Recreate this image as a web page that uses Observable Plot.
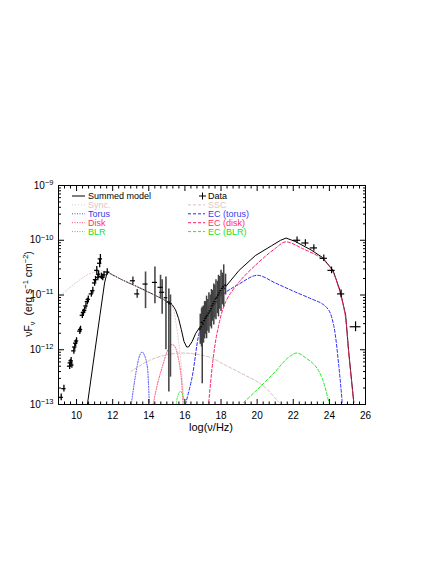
<!DOCTYPE html>
<html><head><meta charset="utf-8">
<script src="https://cdn.jsdelivr.net/npm/d3@7"></script>
<script src="https://cdn.jsdelivr.net/npm/@observablehq/plot@0.6"></script>
<style>
html,body{margin:0;padding:0;background:#fff;}
#chart{width:436px;height:564px;}
</style></head><body><div id="chart"></div>
<script>
// ---- tick labels ----
const xMajorTicks = [10, 12, 14, 16, 18, 20, 22, 24, 26];
const yMajorExponents = [-13, -12, -11, -10, -9];

// ---- model curves: [log(nu/Hz), log(nuFnu)] ----
const summedModel = [[10.6,-13.0],[11.0,-12.06],[11.3,-11.36],[11.55,-10.78],[11.7,-10.58],[12.5,-10.72],[13.5,-10.87],[14.5,-11.03],[15.1,-11.13],[15.3,-11.18],[15.48,-11.27],[15.65,-11.43],[15.8,-11.63],[15.95,-11.85],[16.1,-11.95],[16.2,-11.95],[16.4,-11.85],[16.6,-11.70],[16.9,-11.55],[17.3,-11.35],[17.7,-11.15],[18.25,-10.85],[19.0,-10.55],[19.9,-10.28],[20.8,-10.10],[21.3,-10.0],[21.6,-9.96],[22.1,-10.02],[23.0,-10.18],[23.6,-10.31],[24.2,-10.55],[24.6,-10.93],[24.9,-11.37],[25.07,-12.04],[25.35,-12.96]];
const syncModel = [[9.0,-11.05],[9.5,-10.9],[10.0,-10.77],[10.5,-10.65],[11.0,-10.58],[11.5,-10.56],[11.8,-10.6],[12.5,-10.72],[13.5,-10.87],[14.5,-11.03],[15.1,-11.13],[15.3,-11.2],[15.5,-11.5],[15.65,-11.85],[15.8,-12.3],[15.95,-12.96]];
const torusModel = [[13.03,-13],[13.2,-12.6],[13.36,-12.29],[13.5,-12.1],[13.63,-12.04],[13.76,-12.1],[13.91,-12.29],[13.98,-12.6],[14.03,-13]];
const diskModel = [[14.24,-13],[14.5,-12.6],[14.74,-12.32],[15.0,-12.05],[15.2,-11.92],[15.35,-11.91],[15.5,-11.98],[15.65,-12.18],[15.78,-12.45],[15.9,-13]];
const blrModel = [[15.52,-13],[15.6,-12.85],[15.75,-12.76],[15.9,-12.85],[16.0,-13]];
const sscModel = [[13.0,-12.40],[14.0,-12.2],[15.0,-12.09],[15.8,-12.06],[16.6,-12.08],[17.5,-12.15],[18.0,-12.24],[19.0,-12.41],[20.3,-12.65],[21.2,-12.96]];
const ecTorusModel = [[16.03,-13],[16.4,-12.5],[16.77,-11.72],[17.14,-11.31],[17.6,-11.12],[18.25,-10.95],[19.0,-10.80],[20.0,-10.64],[21.0,-10.78],[21.94,-10.92],[23.0,-11.07],[23.6,-11.16],[23.97,-11.28],[24.24,-11.56],[24.52,-12.29],[24.71,-12.96]];
const ecDiskModel = [[17.32,-12.96],[17.55,-12.2],[17.79,-11.68],[18.25,-11.13],[18.98,-10.77],[20.09,-10.40],[21.0,-10.15],[21.57,-10.03],[22.5,-10.15],[23.6,-10.34],[24.15,-10.55],[24.61,-10.98],[24.89,-11.4],[25.07,-12.06],[25.35,-12.96]];
const ecBlrModel = [[19.26,-12.96],[20.0,-12.73],[21.0,-12.40],[21.7,-12.15],[22.2,-12.06],[22.7,-12.15],[23.23,-12.3],[23.6,-12.52],[23.97,-12.96]];

// ---- data: [log nu, log nuFnu, x half-error, log low, log high] ----
const radioData = [[9.15,-12.87,0.12,-12.93,-12.81],[9.3,-12.71,0.12,-12.77,-12.65],[9.62,-12.30,0.12,-12.36,-12.24],[9.65,-12.24,0.12,-12.3,-12.18],[9.7,-12.20,0.12,-12.26,-12.14],[9.74,-12.28,0.12,-12.34,-12.22],[9.85,-12.02,0.12,-12.08,-11.96],[9.9,-11.95,0.12,-12.01,-11.89],[9.95,-11.88,0.12,-11.94,-11.82],[10.0,-11.84,0.12,-11.9,-11.78],[10.18,-11.66,0.12,-11.72,-11.6],[10.22,-11.63,0.12,-11.69,-11.57],[10.32,-11.37,0.12,-11.43,-11.31],[10.38,-11.32,0.12,-11.38,-11.26],[10.45,-11.28,0.12,-11.34,-11.22],[10.52,-11.2,0.12,-11.26,-11.14],[10.6,-11.12,0.12,-11.18,-11.06],[10.65,-11.08,0.12,-11.14,-11.02],[10.82,-10.98,0.12,-11.04,-10.92],[10.9,-10.92,0.12,-10.98,-10.86],[11.0,-10.78,0.12,-10.84,-10.72],[11.05,-10.72,0.12,-10.78,-10.66],[11.12,-10.55,0.12,-10.62,-10.48],[11.18,-10.68,0.12,-10.74,-10.62],[11.22,-10.62,0.12,-10.68,-10.56],[11.28,-10.42,0.12,-10.5,-10.34],[11.32,-10.34,0.12,-10.44,-10.26],[11.38,-10.66,0.12,-10.72,-10.6],[11.45,-10.68,0.12,-10.74,-10.62],[11.52,-10.63,0.12,-10.69,-10.57],[11.7,-10.58,0.14,-10.64,-10.52]];
const opticalData = [[13.12,-10.74,0.14,-10.81,-10.67],[13.36,-10.98,0.14,-11.06,-10.9],[13.82,-10.80,0.14,-11.25,-10.58],[14.34,-10.77,0.14,-11.16,-10.49],[14.65,-10.86,0.14,-11.07,-10.64],[14.74,-10.95,0.14,-11.35,-10.72],[14.95,-11.05,0.1,-12.0,-10.67],[15.11,-11.13,0.1,-12.77,-10.89],[15.2,-11.16,0.1,-12.5,-11.0]];
const xrayData = [[16.85,-11.62,0.06,-11.9,-11.35],[16.92,-11.58,0.06,-11.95,-11.25],[16.96,-11.50,0.06,-12.62,-11.22],[17.03,-11.53,0.06,-11.88,-11.2],[17.09,-11.47,0.06,-11.8,-11.12],[17.15,-11.43,0.06,-11.72,-11.12],[17.2,-11.40,0.06,-11.8,-11.02],[17.27,-11.37,0.06,-11.66,-11.08],[17.33,-11.33,0.06,-11.7,-10.96],[17.4,-11.29,0.06,-11.58,-11.0],[17.47,-11.25,0.06,-11.62,-10.9],[17.53,-11.20,0.06,-11.48,-10.92],[17.6,-11.16,0.06,-11.55,-10.8],[17.66,-11.12,0.06,-11.42,-10.82],[17.72,-11.07,0.06,-11.45,-10.72],[17.8,-11.04,0.06,-11.34,-10.75],[17.86,-11.00,0.06,-11.4,-10.64],[17.93,-10.96,0.06,-11.26,-10.66],[18.0,-10.92,0.06,-11.3,-10.55],[18.07,-10.88,0.06,-11.18,-10.6],[18.15,-10.85,0.06,-11.22,-10.45],[18.25,-10.82,0.06,-11.0,-10.62]];
const gammaData = [[22.21,-10.0,0.2,-10.06,-9.94],[22.67,-10.05,0.2,-10.11,-9.99],[23.14,-10.14,0.2,-10.2,-10.08],[23.69,-10.33,0.2,-10.39,-10.27],[24.12,-10.55,0.2,-10.61,-10.49],[24.65,-10.98,0.2,-11.05,-10.91],[25.45,-11.58,0.3,-11.67,-11.49]];

const FONT = '"Liberation Sans", Arial, Helvetica, sans-serif';
const line = a => a.map(([x, ly]) => ({x, y: 10 ** ly}));
const pts = a => a.map(([x, ly, xe, lo, hi]) => ({x, y: 10 ** ly, x1: x - xe, x2: x + xe, y1: 10 ** lo, y2: 10 ** hi}));

const xMinor = d3.range(9, 26.001, 1 / 3).map(v => Math.round(v * 1000) / 1000).filter(v => !xMajorTicks.includes(Math.round(v)) || Math.abs(v - Math.round(v)) > 0.01);
const yMajor = yMajorExponents.map(e => 10 ** e);
const yMinor = [];
for (const e of yMajorExponents.slice(0, -1)) for (let m = 2; m <= 9; m++) yMinor.push(m * 10 ** e);

const series = [
  {data: syncModel, stroke: "#e4c4c4", dash: "1,2"},
  {data: torusModel, stroke: "#4a4aff", dash: "1,1.5"},
  {data: diskModel, stroke: "#ff4477", dash: "1,1.5"},
  {data: blrModel, stroke: "#22ee22", dash: "1,1.5"},
  {data: sscModel, stroke: "#dcbcbc", dash: "3,2"},
  {data: ecTorusModel, stroke: "#2a2aff", dash: "3,2"},
  {data: ecDiskModel, stroke: "#ff1e66", dash: "3,2"},
  {data: ecBlrModel, stroke: "#22ee22", dash: "3,2"}
];

const errMarks = (arr, color, w, hw) => {
  const p = pts(arr);
  return [
    Plot.ruleX(p, {x: "x", y1: "y1", y2: "y2", stroke: color, strokeWidth: w, clip: true}),
    Plot.ruleY(p, {y: "y", x1: "x1", x2: "x2", stroke: "#000", strokeWidth: hw, clip: true})
  ];
};

const chart = Plot.plot({
  width: 436, height: 564,
  marginLeft: 58, marginRight: 71, marginTop: 185, marginBottom: 160,
  style: {fontFamily: FONT, fontSize: "10px", background: "white", color: "black"},
  x: {domain: [9, 26]},
  y: {type: "log", domain: [1e-13, 1e-9]},
  marks: [
    Plot.line(line(summedModel), {x: "x", y: "y", stroke: "black", strokeWidth: 1, clip: true}),
    ...series.map(s => Plot.line(line(s.data), {x: "x", y: "y", stroke: s.stroke, strokeWidth: 1, strokeDasharray: s.dash, curve: "catmull-rom", clip: true})),
    ...errMarks(opticalData, "#4a4a4a", 1.6, 1.2),
    ...errMarks(xrayData, "#404040", 1.5, 1.2),
    ...errMarks(radioData, "#000", 1.3, 1.3),
    ...errMarks(gammaData, "#000", 1.2, 1.2),
    Plot.frame({stroke: "black"}),
    Plot.axisX({anchor: "bottom", ticks: xMajorTicks, tickSize: -5, tickPadding: 12, tickFormat: d => String(d), fontSize: 10, label: null}),
    Plot.axisX({anchor: "bottom", ticks: xMinor, tickSize: -2.5, fill: "none", label: null}),
    Plot.axisX({anchor: "top", ticks: xMajorTicks, tickSize: -5, fill: "none", label: null}),
    Plot.axisX({anchor: "top", ticks: xMinor, tickSize: -2.5, fill: "none", label: null}),
    Plot.axisY({anchor: "left", ticks: yMajor, tickSize: -6, tickPadding: 11, tickFormat: d => "10^" + Math.round(Math.log10(d)), fontSize: 10, label: null}),
    Plot.axisY({anchor: "left", ticks: yMinor, tickSize: -3, fill: "none", label: null}),
    Plot.axisY({anchor: "right", ticks: yMajor, tickSize: -6, fill: "none", label: null}),
    Plot.axisY({anchor: "right", ticks: yMinor, tickSize: -3, fill: "none", label: null})
  ]
});
document.getElementById("chart").appendChild(chart);

const svg = d3.select(chart);
// superscript exponents on y tick labels
svg.selectAll('g[aria-label="y-axis tick label"] text').each(function () {
  const t = this.textContent;
  if (!t.includes("^")) return;
  const [b, e] = t.split("^");
  const el = d3.select(this);
  el.text(null);
  el.append("tspan").text(b);
  el.append("tspan").attr("dy", "-0.5em").attr("font-size", "7.5px").text(e.replace("-", "\u2212"));
});

// axis titles
svg.append("text").attr("x", 211).attr("y", 431).attr("text-anchor", "middle")
  .attr("font-family", FONT).attr("font-size", 11).text("log(\u03bd/Hz)");
const yt = svg.append("text").attr("transform", "translate(32,294) rotate(-90)").attr("text-anchor", "middle")
  .attr("font-family", FONT).attr("font-size", 10.5);
yt.append("tspan").text("\u03bdF");
yt.append("tspan").attr("dy", 3).attr("font-size", 7.5).text("\u03bd");
yt.append("tspan").attr("dy", -3).text("  (erg s");
yt.append("tspan").attr("dy", -4).attr("font-size", 7.5).text("\u22121");
yt.append("tspan").attr("dy", 4).text(" cm");
yt.append("tspan").attr("dy", -4).attr("font-size", 7.5).text("\u22122");
yt.append("tspan").attr("dy", 4).text(")");

// legend
const legendLeft = [
  {label: "Summed model", color: "black", text: "black", dash: null},
  {label: "Sync.", color: "#e4c4c4", text: "#e2c4c4", dash: "1,2"},
  {label: "Torus", color: "#4a4aff", text: "#3c3cf0", dash: "1,1.5"},
  {label: "Disk", color: "#ff4477", text: "#ff2f66", dash: "1,1.5"},
  {label: "BLR", color: "#22ee22", text: "#22dd22", dash: "1,1.5"}
];
const legendRight = [
  {label: "Data", color: null, text: "black"},
  {label: "SSC", color: "#dcbcbc", text: "#e2c4c4", dash: "3,2"},
  {label: "EC (torus)", color: "#2a2aff", text: "#3c3cf0", dash: "3,2"},
  {label: "EC (disk)", color: "#ff1e66", text: "#ff2f66", dash: "3,2"},
  {label: "EC (BLR)", color: "#22ee22", text: "#22dd22", dash: "3,2"}
];
const lg = svg.append("g").attr("font-family", FONT).attr("font-size", 9).attr("text-anchor", "start");
const rowY = i => 196 + i * 8.9;
legendLeft.forEach((d, i) => {
  lg.append("line").attr("x1", 72).attr("x2", 85).attr("y1", rowY(i)).attr("y2", rowY(i))
    .attr("stroke", d.color).attr("stroke-width", 1).attr("stroke-dasharray", d.dash);
  lg.append("text").attr("x", 88).attr("y", rowY(i) + 3).attr("fill", d.text).attr("text-anchor", "start").text(d.label);
});
legendRight.forEach((d, i) => {
  if (d.color) {
    lg.append("line").attr("x1", 188).attr("x2", 205).attr("y1", rowY(i)).attr("y2", rowY(i))
      .attr("stroke", d.color).attr("stroke-width", 1).attr("stroke-dasharray", d.dash);
  } else {
    lg.append("line").attr("x1", 199).attr("x2", 206).attr("y1", rowY(i)).attr("y2", rowY(i)).attr("stroke", "black");
    lg.append("line").attr("x1", 202.5).attr("x2", 202.5).attr("y1", rowY(i) - 3.5).attr("y2", rowY(i) + 3.5).attr("stroke", "black");
  }
  lg.append("text").attr("x", 208).attr("y", rowY(i) + 3).attr("fill", d.text).attr("text-anchor", "start").text(d.label);
});
</script></body></html>
